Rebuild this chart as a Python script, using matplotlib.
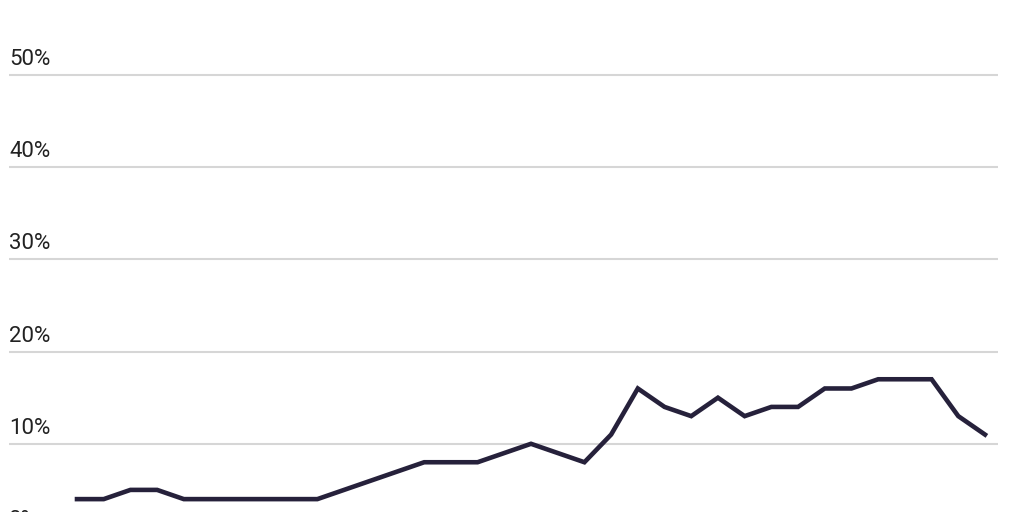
import matplotlib
matplotlib.use("Agg")
import matplotlib.pyplot as plt
import numpy as np

# share (%) per period
periods = list(range(35))
share = [4, 4, 5, 5, 4, 4, 4, 4, 4, 4,
         5, 6, 7, 8, 8, 8, 9, 10, 9, 8,
         11, 16, 14, 13, 15, 13, 14, 14, 16, 16,
         17, 17, 17, 13, 11]
tick_vals = [0, 10, 20, 30, 40, 50]
tick_labels = ["0%", "10%", "20%", "30%", "40%", "50%"]

plt.rcParams['font.family'] = ['Roboto', 'DejaVu Sans']

fig = plt.figure(figsize=(10.24, 5.12), dpi=100)
ax = fig.add_axes([9/1024, 0, (998-9)/1024, 1])

# pixel mapping: index 0 -> x=77, index 34 -> x=985 ; 0% -> y=536, 10 pts per 92.2 px
px_per_idx = (985 - 77) / 34
ax.set_xlim(-(77 - 9) / px_per_idx, 34 + (998 - 985) / px_per_idx)
px_per_pt = 9.22
ax.set_ylim((536 - 512) / px_per_pt, 536 / px_per_pt)

for v, lab in zip(tick_vals, tick_labels):
    ax.axhline(v, color="#d6d6d6", lw=1.5, zorder=1)
    ax.annotate(lab, xy=(0, v), xycoords=("axes fraction", "data"),
                xytext=(0, 5), textcoords="offset pixels",
                ha="left", va="bottom", fontsize=16, color="#222222",
                annotation_clip=False)

ax.plot(periods, share, color="#26213b", lw=3.3, solid_joinstyle="miter", zorder=3)

ax.axis("off")
fig.savefig("out.png", dpi=100)
